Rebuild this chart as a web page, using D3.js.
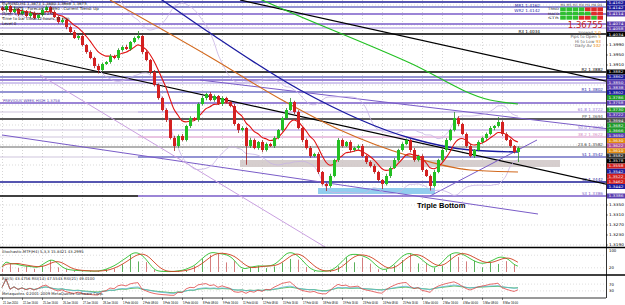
<!DOCTYPE html>
<html>
<head>
<meta charset="utf-8">
<script src="https://cdn.jsdelivr.net/npm/d3@7"></script>
<style>
body { margin: 0; background: #fff; }
svg { display: block; font-family: "DejaVu Sans", sans-serif; }
</style>
</head>
<body>
<svg id="chart" width="625" height="305"></svg>
<script>
// ---- values (EURUSD, H4) ----
var firstOpen = 1.4140;
var closes = [
  1.4130,1.4146,1.4122,1.4134,1.4114,1.4126,1.4106,1.4118,1.4098,1.4110,
  1.4130,1.4142,1.4122,1.4102,1.4082,1.4090,1.4062,1.4042,1.4018,1.4026,
  1.3990,1.3962,1.3938,1.3906,1.3890,1.3914,1.3922,1.3946,1.3938,1.3970,
  1.3982,1.3974,1.4002,1.4018,1.4026,1.3962,1.3930,1.3882,1.3830,1.3778,
  1.3730,1.3690,1.3618,1.3586,1.3626,1.3610,1.3666,1.3698,1.3690,1.3754,
  1.3778,1.3794,1.3770,1.3786,1.3754,1.3778,1.3762,1.3746,1.3674,1.3650,
  1.3658,1.3586,1.3610,1.3578,1.3602,1.3570,1.3594,1.3586,1.3618,1.3650,
  1.3698,1.3730,1.3762,1.3722,1.3658,1.3610,1.3578,1.3546,1.3554,1.3482,
  1.3434,1.3426,1.3466,1.3530,1.3610,1.3586,1.3602,1.3570,1.3578,1.3586,
  1.3546,1.3522,1.3506,1.3482,1.3450,1.3434,1.3466,1.3498,1.3530,1.3570,
  1.3594,1.3610,1.3570,1.3530,1.3546,1.3490,1.3466,1.3426,1.3482,1.3530,
  1.3570,1.3610,1.3650,1.3698,1.3674,1.3634,1.3586,1.3546,1.3570,1.3602,
  1.3618,1.3634,1.3658,1.3666,1.3682,1.3634,1.3610,1.3586,1.3562,1.3578
];
// wick lengths above / below the body, in pips
var wickUp = [
  6,8,4,10,5,7,4,9,6,5, 8,6,4,7,5,9,4,6,8,5, 6,4,7,5,9,6,4,8,5,7,
  6,9,4,6,20,5,7,4,8,6, 5,7,4,9,6,8,5,7,4,6, 9,5,8,6,4,7,5,6,8,4,
  7,5,9,6,4,8,6,5,7,4, 6,8,16,5,7,4,6,8,5,7, 4,6,9,5,8,6,4,7,5,6,
  8,4,6,7,5,4,9,6,8,5, 7,6,4,8,5,7,4,6,9,5, 6,8,4,24,7,5,6,8,4,7,
  5,6,8,4,20,6,7,5,4,6
];
var wickDn = [
  5,7,6,4,8,5,6,9,4,7, 6,5,8,4,7,6,9,5,4,8, 6,7,5,9,14,6,4,7,5,8,
  6,4,7,5,6,8,5,9,6,7, 5,8,6,20,7,5,6,8,4,7, 6,9,5,7,4,8,6,5,7,12,
  6,75,8,5,7,9,6,4,8,5, 7,6,4,8,5,9,6,7,5,8, 6,20,7,5,8,6,4,9,6,7,
  5,8,6,7,5,20,6,8,4,7, 6,5,9,7,6,8,4,18,6,5, 7,8,5,6,9,4,7,6,8,5,
  6,7,5,9,6,8,4,7,6,40
];

// time axis labels (every 5th bar)
var timeIdx = [0,5,10,15,20,25,30,35,40,45,50,55,60,65,70,75,80,85,90,95,100,105,110,115,120,125];
var timeLabels = ["21 Jan 2010","22 Jan 16:00","25 Jan 16:00","26 Jan 16:00","27 Jan 16:00","28 Jan 16:00",
  "1 Feb 00:00","2 Feb 08:00","3 Feb 16:00","5 Feb 00:00","8 Feb 08:00","9 Feb 16:00","11 Feb 00:00",
  "12 Feb 08:00","15 Feb 16:00","17 Feb 00:00","18 Feb 08:00","19 Feb 16:00","23 Feb 00:00","24 Feb 08:00",
  "25 Feb 16:00","1 Mar 00:00","2 Mar 16:00","4 Mar 00:00","5 Mar 08:00","8 Mar 16:00"];

// price axis ticks
var priceTicks = [1.4150,1.4110,1.4070,1.4030,1.3990,1.3950,1.3910,1.3870,1.3830,1.3790,1.3750,1.3710,
  1.3670,1.3630,1.3590,1.3550,1.3510,1.3470,1.3430,1.3390,1.3350,1.3310,1.3270,1.3230,1.3190];

// horizontal levels (pivots, fibs, previous week)
var levelPrice = [1.4162,1.4142,1.4114,1.4074,1.4058,1.4034,1.3882,1.3862,1.3850,1.3838,1.3802,1.3758,
  1.3722,1.3694,1.3650,1.3622,1.3582,1.3542,1.3442,1.3386];
var levelKind  = ['navyThick','navy','purple','purple','purpleThin','black','black','navy','purple','purpleThin',
  'navy','purple','purpleThin','gray','purpleThin','pink','dark','navy','navyThick','purple'];
var levelName  = ['MR1','WR2','','','','R3','R2','','','','R1','','61.8','PP','50.0','38.2','23.6','S1','S2','S3'];
var levelStart = [0,0,0,0,0,0,0,0,0,0,0,0,34,0,34,34,0,34,0,34];

// extra coloured markers on the price scale
var markPrice = [1.3786,1.3730,1.3682,1.3666,1.3630,1.3610,1.3558,1.3522,1.3462];
var markKind  = ['green','green','green','green','orange','orange','red','red','red'];

// long moving averages: [bar, price] knots
var ma100 = [[34.5,1.4230],[40,1.4170],[52,1.4038],[74.5,1.3810],[102,1.3618],[117,1.3570],[129,1.3562]];
var ma200 = [[59.5,1.4210],[65,1.4170],[102,1.3918],[122,1.3770],[129,1.3754]];
var ma50  = [[27,1.4170],[52,1.3942],[70,1.3770],[84.5,1.3650],[102,1.3545],[117,1.3490],[129,1.3482]];

// trend lines: [bar1, price1, bar2, price2]
var trendLines = [[-0.5,1.3970,152,1.3430],[59.5,1.4170,152,1.3842],[0,1.3630,134,1.3314],
  [49.5,1.3850,154,1.3650],[9.5,1.3870,82,1.3170],[107,1.3386,133.75,1.3610]];
var trendKind = ['black','black','purple','purple','violet','purple'];

// boxes: [bar1, bar2, top, bottom]
var zones = [[59.5,139.5,1.3530,1.3502],[79,108.25,1.3418,1.3394]];
var zoneKind = ['gray','blue'];

// multi timeframe panel
var tfLabels = ['M1','M5','M15','M30','H1','H4','D1'];
var tfRows = ['TRND','MACD','STR'];
var tfSignals = [[1,1,1,1,0,0,0],[1,1,1,1,1,0,0],[1,1,1,0,0,1,0]];

// ---- layout ----
var svg = d3.select('#chart');
var axisX = 606;
var x = d3.scaleLinear().domain([0, 151]).range([2, 606]);
var y = d3.scaleLinear().domain([1.3182, 1.4170]).range([247, 0]);
var ySt = d3.scaleLinear().domain([0, 100]).range([272, 251]);
var yRsi = d3.scaleLinear().domain([0, 100]).range([296, 279]);

var lineColor = {navyThick:'#1c1c96', navy:'#2a2aa8', purple:'#7a5cc8', purpleThin:'#9a82d8',
  black:'#000', gray:'#5a5a5a', pink:'#d48ac4', dark:'#404040', violet:'#c9a0e0'};
var lineWidth = {navyThick:1.7, navy:1.1, purple:1.4, purpleThin:0.9, black:1.6, gray:2.2, pink:1, dark:0.8, violet:0.9};
var boxColor = {navyThick:'#1c1c9c', navy:'#1c1c9c', purple:'#5b3fb0', purpleThin:'#5b3fb0', black:'#000',
  gray:'#505050', pink:'#b05090', dark:'#303030', green:'#1f9a2a', orange:'#e08a10', red:'#d01c1c'};

var candles = closes.map(function(c, i) {
  var o = i ? closes[i - 1] : firstOpen;
  return {i: i, o: o, c: c,
    h: Math.max(o, c) + wickUp[i] * 1e-4,
    l: Math.min(o, c) - wickDn[i] * 1e-4};
});

svg.append('defs').append('clipPath').attr('id', 'mainClip')
  .append('rect').attr('x', 0).attr('y', 0).attr('width', axisX).attr('height', 247);

// grid
var grid = svg.append('g');
timeIdx.forEach(function(t) {
  grid.append('line').attr('x1', x(t) + 0.5).attr('x2', x(t) + 0.5).attr('y1', 0).attr('y2', 298)
    .attr('stroke', '#b8b8b8').attr('stroke-width', 0.6).attr('stroke-dasharray', '1,2');
});
priceTicks.forEach(function(p, k) {
  if (k % 2) return;
  grid.append('line').attr('x1', 0).attr('x2', axisX).attr('y1', y(p)).attr('y2', y(p))
    .attr('stroke', '#c4c4c4').attr('stroke-width', 0.6).attr('stroke-dasharray', '1,2');
});

var main = svg.append('g').attr('clip-path', 'url(#mainClip)');

// zones
zones.forEach(function(z, k) {
  main.append('rect').attr('x', x(z[0])).attr('width', x(z[1]) - x(z[0]))
    .attr('y', y(z[2])).attr('height', y(z[3]) - y(z[2]))
    .attr('fill', zoneKind[k] == 'gray' ? '#cfc6c6' : '#86c8ec')
    .attr('opacity', zoneKind[k] == 'gray' ? 0.85 : 0.9);
});

// horizontal levels
levelPrice.forEach(function(p, k) {
  var kind = levelKind[k];
  main.append('line').attr('x1', levelStart[k] ? x(levelStart[k]) : 0).attr('x2', axisX)
    .attr('y1', y(p)).attr('y2', y(p))
    .attr('stroke', lineColor[kind]).attr('stroke-width', lineWidth[kind]);
  if (levelStart[k]) {
    main.append('line').attr('x1', 0).attr('x2', x(levelStart[k])).attr('y1', y(p)).attr('y2', y(p))
      .attr('stroke', k == 19 ? '#000' : '#b0a0c8').attr('stroke-width', k == 19 ? 1.4 : 0.6);
  }
  if (levelName[k]) {
    // labels close to the top edge go under their line, and left of the info panel
    var top = y(p) < 50;
    var ly = y(p) < 8 ? y(p) + 4.5 : y(p) - 1.2;
    main.append('text').attr('x', top ? 540 : 603).attr('y', ly).attr('text-anchor', 'end')
      .attr('font-size', 4.2).attr('fill', lineColor[kind])
      .text(levelName[k] + ' ' + p.toFixed(4));
  }
});

// trend lines
trendLines.forEach(function(t, k) {
  main.append('line').attr('x1', x(t[0])).attr('y1', y(t[1])).attr('x2', x(t[2])).attr('y2', y(t[3]))
    .attr('stroke', lineColor[trendKind[k]]).attr('stroke-width', trendKind[k] == 'black' ? 1.2 : 1);
});

// bollinger bands and fast ema from the closes
function ema(arr, n) {
  var k = 2 / (n + 1), prev = arr[0];
  return arr.map(function(v, i) { prev = i ? v * k + prev * (1 - k) : v; return prev; });
}
var bbUp = [], bbDn = [];
closes.forEach(function(c, i) {
  var w = closes.slice(Math.max(0, i - 19), i + 1);
  var m = d3.mean(w), s = w.length > 1 ? d3.deviation(w) : 0;
  bbUp.push([i, m + 2 * s]); bbDn.push([i, m - 2 * s]);
});
var fast = ema(closes, 8).map(function(v, i) { return [i, v]; });

var maLine = d3.line().x(function(d) { return x(d[0]); }).y(function(d) { return y(d[1]); })
  .curve(d3.curveMonotoneX);
[[bbUp, '#c8b4e4', 0.8], [bbDn, '#c8b4e4', 0.8], [ma50, '#d2691e', 1.1], [ma100, '#1a1aa0', 1.3],
 [ma200, '#22c022', 1.2], [fast, '#e01010', 1.1]].forEach(function(s) {
  main.append('path').attr('d', maLine(s[0])).attr('fill', 'none')
    .attr('stroke', s[1]).attr('stroke-width', s[2]);
});

// candles
var cg = main.selectAll('.candle').data(candles).enter().append('g').attr('class', 'candle');
cg.append('line')
  .attr('x1', function(d) { return x(d.i) + 0.5; }).attr('x2', function(d) { return x(d.i) + 0.5; })
  .attr('y1', function(d) { return y(d.h); }).attr('y2', function(d) { return y(d.l); })
  .attr('stroke', function(d) { return d.c >= d.o ? '#2a8a2a' : '#a02020'; }).attr('stroke-width', 0.8);
cg.append('rect')
  .attr('x', function(d) { return x(d.i) - 1; }).attr('width', 3)
  .attr('y', function(d) { return y(Math.max(d.o, d.c)); })
  .attr('height', function(d) { return Math.max(1, Math.abs(y(d.o) - y(d.c))); })
  .attr('fill', function(d) { return d.c >= d.o ? '#22c022' : '#d42020'; });

// chart texts
svg.append('text').attr('x', 417).attr('y', 208).attr('font-family', 'Liberation Sans, Arial, sans-serif')
  .attr('font-weight', 'bold').attr('font-size', 7.5).attr('fill', '#000').text('Triple Bottom');
svg.append('text').attr('x', 3).attr('y', 101.5).attr('font-size', 3.8).attr('fill', '#5b3fb0')
  .text('PREVIOUS WEEK HIGH 1.3758');

var info = ['EURUSD,H4  1.3673 1.3680 1.3666 1.3675', 'Bid 1.3675 · Forecast 1.3690 · Current Trend: Up',
  'Open 1.3670 · Spread 2.0', 'Time to bar close: 2 hours 35 min', 'Level 0'];
info.forEach(function(t, k) {
  svg.append('text').attr('x', 2).attr('y', 5 + k * 5).attr('font-size', 4).attr('fill', '#222').text(t);
});

// multi timeframe panel
tfLabels.forEach(function(t, j) {
  svg.append('text').attr('x', 560.4 + j * 6.2).attr('y', 6.3)
    .attr('font-size', 3).attr('textLength', 5).attr('lengthAdjust', 'spacingAndGlyphs')
    .attr('fill', '#333').text(t);
});
tfRows.forEach(function(r, k) {
  svg.append('text').attr('x', 548).attr('y', 10.4 + k * 4.3)
    .attr('font-size', 3).attr('textLength', 11).attr('lengthAdjust', 'spacingAndGlyphs')
    .attr('fill', '#333').text(r);
  tfSignals[k].forEach(function(s, j) {
    svg.append('rect').attr('x', 560.2 + j * 6.2).attr('y', 7.3 + k * 4.3).attr('width', 5.6).attr('height', 3.8)
      .attr('fill', s ? '#2fc02f' : '#e02a2a');
  });
});
svg.append('text').attr('x', 603).attr('y', 28).attr('text-anchor', 'end').attr('font-size', 8.5)
  .attr('fill', '#c81c1c').text('1.36755');
var stats = [['Spread', '2.0'], ['Pips to Open', '5'], ['Hi to Low', '93'], ['Daily Av', '102']];
stats.forEach(function(s, k) {
  var t = svg.append('text').attr('x', 601).attr('y', 33.5 + k * 4.6).attr('text-anchor', 'end')
    .attr('font-size', 4.2).attr('fill', '#666');
  t.append('tspan').text(s[0] + ' ');
  t.append('tspan').attr('fill', '#f08c00').text(s[1]);
});

// ---- stochastic panel ----
var kRaw = candles.map(function(d, i) {
  var w = candles.slice(Math.max(0, i - 9), i + 1);
  var hh = d3.max(w, function(e) { return e.h; }), ll = d3.min(w, function(e) { return e.l; });
  return {num: d.c - ll, den: hh - ll};
});
var stK = kRaw.map(function(d, i) {
  var w = kRaw.slice(Math.max(0, i - 3), i + 1);
  var den = d3.sum(w, function(e) { return e.den; });
  return den ? 100 * d3.sum(w, function(e) { return e.num; }) / den : 50;
});
var stD = stK.map(function(v, i) { return d3.mean(stK.slice(Math.max(0, i - 3), i + 1)); });

[20, 80].forEach(function(v) {
  svg.append('line').attr('x1', 0).attr('x2', axisX).attr('y1', ySt(v)).attr('y2', ySt(v))
    .attr('stroke', '#c8c8c8').attr('stroke-width', 0.6).attr('stroke-dasharray', '1,2');
});
svg.selectAll('.stbar').data(candles.filter(function(d) { return d.i % 2 == 0; })).enter().append('rect')
  .attr('x', function(d) { return x(d.i); }).attr('width', 0.9)
  .attr('y', function(d) { return ySt(stK[d.i] * (0.55 + 0.45 * (wickUp[d.i] % 5) / 4)); })
  .attr('height', function(d) { return ySt(0) - ySt(stK[d.i] * (0.55 + 0.45 * (wickUp[d.i] % 5) / 4)); })
  .attr('fill', function(d) { return d.c >= d.o ? '#4aa84a' : '#d07070'; });
var stLine = d3.line().x(function(d, i) { return x(i); }).y(function(d) { return ySt(d); })
  .curve(d3.curveBasis);
svg.append('path').attr('d', stLine(stK)).attr('fill', 'none').attr('stroke', '#30c030').attr('stroke-width', 0.9);
svg.append('path').attr('d', stLine(stD)).attr('fill', 'none').attr('stroke', '#d04020').attr('stroke-width', 0.9);
svg.append('text').attr('x', 2).attr('y', 252.5).attr('font-size', 3.8).attr('fill', '#222')
  .text('Stochastic MTF(H4) 5,3,3  15.8421  43.2995');

// ---- RSI panel ----
function rsi(c, n) {
  var out = [50], ag = 0, al = 0;
  for (var i = 1; i < c.length; i++) {
    var d = c[i] - c[i - 1], g = Math.max(d, 0), l = Math.max(-d, 0);
    var m = Math.min(i, n);
    ag = (ag * (m - 1) + g) / m; al = (al * (m - 1) + l) / m;
    out.push(al === 0 ? 100 : 100 - 100 / (1 + ag / al));
  }
  return out;
}
[30, 70].forEach(function(v) {
  svg.append('line').attr('x1', 0).attr('x2', axisX).attr('y1', yRsi(v)).attr('y2', yRsi(v))
    .attr('stroke', '#c8c8c8').attr('stroke-width', 0.6).attr('stroke-dasharray', '1,2');
});
var rsiLine = d3.line().x(function(d, i) { return x(i); }).y(function(d) { return yRsi(d); });
[[21, '#40b040'], [14, '#60b8d8'], [5, '#e04848']].forEach(function(r) {
  svg.append('path').attr('d', rsiLine(rsi(closes, r[0]))).attr('fill', 'none')
    .attr('stroke', r[1]).attr('stroke-width', 0.8);
});
svg.append('text').attr('x', 2).attr('y', 279.5).attr('font-size', 3.8).attr('fill', '#222')
  .text('RSI(5) 43.4756  RSI(14) 47.5543  RSI(21) 49.0100');
svg.append('text').attr('x', 2).attr('y', 295).attr('font-size', 3.8).attr('fill', '#222')
  .text('Metaquotes ©2001-2009 MetaQuotes Software Corp.');

// ---- frame and axes ----
svg.append('line').attr('x1', 0).attr('x2', 625).attr('y1', 247.5).attr('y2', 247.5).attr('stroke', '#000').attr('stroke-width', 1.5);
svg.append('line').attr('x1', 0).attr('x2', 625).attr('y1', 275).attr('y2', 275).attr('stroke', '#000').attr('stroke-width', 1.5);
svg.append('line').attr('x1', 0).attr('x2', axisX).attr('y1', 298).attr('y2', 298).attr('stroke', '#000').attr('stroke-width', 0.8);
svg.append('line').attr('x1', axisX + 0.5).attr('x2', axisX + 0.5).attr('y1', 0).attr('y2', 298).attr('stroke', '#000').attr('stroke-width', 0.8);

// coloured price boxes, stacked so they do not cover each other
var boxes = [];
levelPrice.forEach(function(p, k) { boxes.push({p: p, col: boxColor[levelKind[k]]}); });
markPrice.forEach(function(p, k) { boxes.push({p: p, col: boxColor[markKind[k]]}); });
boxes.push({p: closes[closes.length - 1], col: '#000'});
boxes.sort(function(a, b) { return b.p - a.p; });
var lastY = -10;
boxes.forEach(function(b) {
  b.y = Math.max(y(b.p), lastY + 5.1, 3);
  lastY = b.y;
});

priceTicks.forEach(function(p) {
  svg.append('line').attr('x1', axisX).attr('x2', axisX + 2).attr('y1', y(p)).attr('y2', y(p)).attr('stroke', '#000').attr('stroke-width', 0.5);
  var hidden = boxes.some(function(b) { return Math.abs(b.y - y(p)) < 5.2; });
  if (hidden) return;
  svg.append('text').attr('x', axisX + 3).attr('y', y(p) + 1.4).attr('font-size', 3.8)
    .attr('textLength', 15).attr('lengthAdjust', 'spacingAndGlyphs').attr('fill', '#000').text(p.toFixed(4));
});
boxes.forEach(function(b) {
  svg.append('rect').attr('x', axisX + 1).attr('y', b.y - 2.5).attr('width', 18).attr('height', 5)
    .attr('fill', b.col);
  svg.append('text').attr('x', axisX + 2.5).attr('y', b.y + 1.3).attr('font-size', 3.5)
    .attr('textLength', 15).attr('lengthAdjust', 'spacingAndGlyphs').attr('fill', '#fff').text(b.p.toFixed(4));
});

[[100, '100'], [20, '20']].forEach(function(v) {
  svg.append('text').attr('x', axisX + 3).attr('y', ySt(v[0]) + 1.4).attr('font-size', 3.8).attr('fill', '#000').text(v[1]);
});
[[70, '70'], [30, '30']].forEach(function(v) {
  svg.append('text').attr('x', axisX + 3).attr('y', yRsi(v[0]) + 1.4).attr('font-size', 3.8).attr('fill', '#000').text(v[1]);
});

timeIdx.forEach(function(t, k) {
  svg.append('line').attr('x1', x(t) + 0.5).attr('x2', x(t) + 0.5).attr('y1', 298).attr('y2', 300).attr('stroke', '#000').attr('stroke-width', 0.5);
  svg.append('text').attr('x', x(t) + 1).attr('y', 303.5)
    .attr('font-family', 'Liberation Sans, Arial, sans-serif').attr('font-size', 3.4)
    .attr('textLength', 15).attr('lengthAdjust', 'spacingAndGlyphs').attr('fill', '#000').text(timeLabels[k]);
});
</script>
</body>
</html>
